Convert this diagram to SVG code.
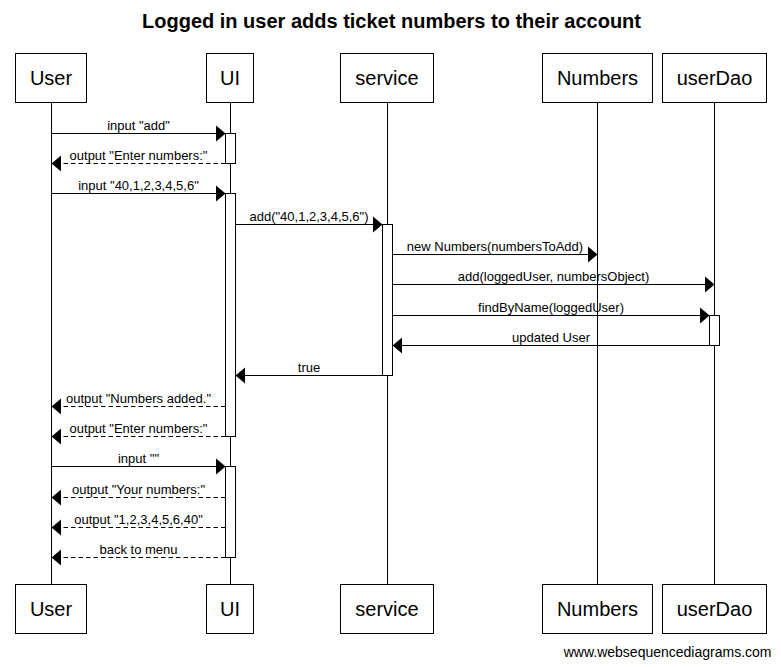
<svg xmlns="http://www.w3.org/2000/svg" width="781" height="667" viewBox="0 0 781 667">
<style>
  .box { fill: #fff; stroke: #000; stroke-width: 1; }
  .life { stroke: #000; stroke-width: 1; fill: none; }
  .act { fill: #fff; stroke: #000; stroke-width: 1; }
  .pname { font-family: "Liberation Sans", Arial, sans-serif; font-size: 20px; fill: #000; text-anchor: middle; }
  .msg { stroke: #000; stroke-width: 1; fill: none; marker-end: url(#arrow); }
  .dash { stroke-dasharray: 4.5 3; }
  .lbl { font-family: "Liberation Sans", Arial, sans-serif; font-size: 13px; fill: #000; text-anchor: middle; }
  .title { font-family: "Liberation Sans", Arial, sans-serif; font-size: 20px; font-weight: bold; fill: #000; text-anchor: middle; }
  .foot { font-family: "Liberation Sans", Arial, sans-serif; font-size: 14px; fill: #000; text-anchor: end; }
</style>
<defs>
  <marker id="arrow" markerUnits="userSpaceOnUse" markerWidth="10" markerHeight="17" refX="9.5" refY="8" orient="auto" overflow="visible">
    <path d="M0,0 L9.5,8 L0,16 Z" fill="#000"/>
  </marker>
</defs>
<rect width="781" height="667" fill="#fff"/>
<text class="title" x="391.5" y="28">Logged in user adds ticket numbers to their account</text>

<g id="User">
  <line class="life" x1="51.5" y1="102.5" x2="51.5" y2="584.5"/>
  <rect class="box" x="15.5" y="53.5" width="71" height="49"/>
  <text class="pname" x="51" y="85">User</text>
  <rect class="box" x="15.5" y="584.5" width="71" height="49"/>
  <text class="pname" x="51" y="616">User</text>
</g>
<g id="UI">
  <line class="life" x1="230.5" y1="102.5" x2="230.5" y2="584.5"/>
  <rect class="box" x="206.5" y="53.5" width="47" height="49"/>
  <text class="pname" x="230" y="85">UI</text>
  <rect class="box" x="206.5" y="584.5" width="47" height="49"/>
  <text class="pname" x="230" y="616">UI</text>
  <rect class="act" x="225.5" y="133.5" width="10" height="30"/>
  <rect class="act" x="225.5" y="193.5" width="10" height="243"/>
  <rect class="act" x="225.5" y="466.5" width="10" height="91"/>
</g>
<g id="service">
  <line class="life" x1="387.5" y1="102.5" x2="387.5" y2="584.5"/>
  <rect class="box" x="340.5" y="53.5" width="93" height="49"/>
  <text class="pname" x="387" y="85">service</text>
  <rect class="box" x="340.5" y="584.5" width="93" height="49"/>
  <text class="pname" x="387" y="616">service</text>
  <rect class="act" x="382.5" y="224.5" width="10" height="151"/>
</g>
<g id="Numbers">
  <line class="life" x1="597.5" y1="102.5" x2="597.5" y2="584.5"/>
  <rect class="box" x="542.5" y="53.5" width="110" height="49"/>
  <text class="pname" x="597.5" y="85">Numbers</text>
  <rect class="box" x="542.5" y="584.5" width="110" height="49"/>
  <text class="pname" x="597.5" y="616">Numbers</text>
</g>
<g id="userDao">
  <line class="life" x1="714.5" y1="102.5" x2="714.5" y2="584.5"/>
  <rect class="box" x="662.5" y="53.5" width="104" height="49"/>
  <text class="pname" x="714.5" y="85">userDao</text>
  <rect class="box" x="662.5" y="584.5" width="104" height="49"/>
  <text class="pname" x="714.5" y="616">userDao</text>
  <rect class="act" x="709.5" y="315.5" width="10" height="30"/>
</g>

<g id="connectors">
  <line class="msg" x1="51.5" y1="133.5" x2="225.5" y2="133.5"/>
  <text class="lbl" x="138.5" y="129.5">input "add"</text>
  <line class="msg dash" x1="225.5" y1="163.5" x2="51.5" y2="163.5"/>
  <text class="lbl" x="138.5" y="159.5">output "Enter numbers:"</text>
  <line class="msg" x1="51.5" y1="193.5" x2="225.5" y2="193.5"/>
  <text class="lbl" x="138.5" y="189.5">input "40,1,2,3,4,5,6"</text>
  <line class="msg" x1="235.5" y1="224.5" x2="382.5" y2="224.5"/>
  <text class="lbl" x="309" y="220.5">add("40,1,2,3,4,5,6")</text>
  <line class="msg" x1="392.5" y1="254.5" x2="597.5" y2="254.5"/>
  <text class="lbl" x="495" y="250.5">new Numbers(numbersToAdd)</text>
  <line class="msg" x1="392.5" y1="284.5" x2="714.5" y2="284.5"/>
  <text class="lbl" x="553.5" y="280.5">add(loggedUser, numbersObject)</text>
  <line class="msg" x1="392.5" y1="315.5" x2="709.5" y2="315.5"/>
  <text class="lbl" x="551" y="311.5">findByName(loggedUser)</text>
  <line class="msg" x1="709.5" y1="345.5" x2="392.5" y2="345.5"/>
  <text class="lbl" x="551" y="341.5">updated User</text>
  <line class="msg" x1="382.5" y1="375.5" x2="235.5" y2="375.5"/>
  <text class="lbl" x="309" y="371.5">true</text>
  <line class="msg dash" x1="225.5" y1="406.5" x2="51.5" y2="406.5"/>
  <text class="lbl" x="138.5" y="402.5">output "Numbers added."</text>
  <line class="msg dash" x1="225.5" y1="436.5" x2="51.5" y2="436.5"/>
  <text class="lbl" x="138.5" y="432.5">output "Enter numbers:"</text>
  <line class="msg" x1="51.5" y1="466.5" x2="225.5" y2="466.5"/>
  <text class="lbl" x="138.5" y="462.5">input ""</text>
  <line class="msg dash" x1="225.5" y1="497.5" x2="51.5" y2="497.5"/>
  <text class="lbl" x="138.5" y="493.5">output "Your numbers:"</text>
  <line class="msg dash" x1="225.5" y1="527.5" x2="51.5" y2="527.5"/>
  <text class="lbl" x="138.5" y="523.5">output "1,2,3,4,5,6,40"</text>
  <line class="msg dash" x1="225.5" y1="557.5" x2="51.5" y2="557.5"/>
  <text class="lbl" x="138.5" y="553.5">back to menu</text>
</g>

<text class="foot" x="771.5" y="657">www.websequencediagrams.com</text>
</svg>
